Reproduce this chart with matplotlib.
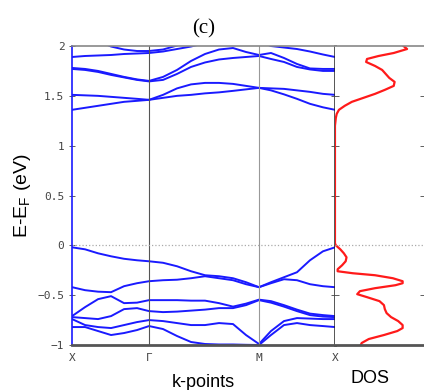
import numpy as np
import matplotlib.pyplot as plt

# k-path distance (arbitrary units) and high-symmetry points
kpath = [0, 13, 26, 39, 52, 65, 77, 91, 105, 119, 133, 147, 161, 174, 187,
         199, 212, 225, 238, 251, 263]
ktick_pos = [0, 77, 187, 263]
ktick_lab = ['X', 'Γ', 'M', 'X']

# valence bands (eV)
v1 = [-0.02, -0.04, -0.08, -0.11, -0.135, -0.15, -0.16, -0.175, -0.21, -0.26, -0.30,
      -0.31, -0.33, -0.37, -0.42, -0.37, -0.32, -0.27, -0.15, -0.06, -0.02]
v2 = [-0.42, -0.45, -0.465, -0.47, -0.41, -0.38, -0.36, -0.35, -0.345, -0.33, -0.31,
      -0.33, -0.35, -0.39, -0.42, -0.38, -0.34, -0.35, -0.39, -0.41, -0.42]
v3 = [-0.71, -0.62, -0.54, -0.51, -0.58, -0.575, -0.55, -0.55, -0.55, -0.555, -0.555,
      -0.58, -0.615, -0.585, -0.545, -0.56, -0.60, -0.645, -0.685, -0.70, -0.71]
v4 = [-0.72, -0.73, -0.74, -0.71, -0.64, -0.63, -0.66, -0.67, -0.665, -0.655, -0.645,
      -0.63, -0.63, -0.60, -0.55, -0.575, -0.615, -0.66, -0.70, -0.715, -0.72]
v5 = [-0.74, -0.80, -0.82, -0.83, -0.80, -0.77, -0.75, -0.76, -0.78, -0.80, -0.80,
      -0.78, -0.79, -0.90, -0.99, -0.86, -0.76, -0.73, -0.735, -0.74, -0.74]
v6 = [-0.82, -0.82, -0.86, -0.90, -0.88, -0.85, -0.81, -0.84, -0.91, -0.97, -0.99,
      -0.995, -0.995, -0.998, -1.0, -0.90, -0.80, -0.78, -0.80, -0.81, -0.82]

# conduction bands (eV)
c1 = [1.36, 1.38, 1.40, 1.42, 1.44, 1.45, 1.46, 1.48, 1.50, 1.51, 1.525,
      1.535, 1.55, 1.565, 1.58, 1.555, 1.515, 1.47, 1.42, 1.385, 1.36]
c2 = [1.51, 1.505, 1.50, 1.49, 1.48, 1.47, 1.46, 1.51, 1.575, 1.615, 1.63,
      1.63, 1.62, 1.60, 1.58, 1.575, 1.57, 1.555, 1.54, 1.52, 1.51]
c3 = [1.77, 1.76, 1.74, 1.71, 1.685, 1.66, 1.645, 1.66, 1.72, 1.79, 1.835,
      1.865, 1.88, 1.89, 1.90, 1.87, 1.84, 1.79, 1.765, 1.75, 1.75]
c4 = [1.78, 1.77, 1.75, 1.72, 1.69, 1.665, 1.65, 1.69, 1.76, 1.85, 1.92,
      1.965, 1.98, 1.94, 1.91, 1.93, 1.88, 1.82, 1.775, 1.77, 1.77]
c5 = [1.89, 1.90, 1.905, 1.91, 1.92, 1.925, 1.93, 1.945, 1.97, 1.995, 2.03,
      2.07, 2.10, 2.08, 2.05, 2.0, 1.985, 1.97, 1.945, 1.915, 1.89]
# this one only dips into the window between X and Gamma-M
c6_k = [26, 39, 52, 65, 77, 91, 105, 119]
c6 = [2.05, 1.995, 1.965, 1.95, 1.95, 1.965, 2.005, 2.06]

bands = [v1, v2, v3, v4, v5, v6, c1, c2, c3, c4, c5]

# density of states (arb. units)
dos_E = [2.0, 1.97, 1.93, 1.90, 1.87, 1.84, 1.80, 1.76, 1.72, 1.68, 1.64, 1.60,
         1.56, 1.52, 1.48, 1.44, 1.40, 1.36, 1.32, 1.28, 1.2, 0.02, 0.0, -0.04,
         -0.08, -0.12, -0.16, -0.20, -0.24, -0.26, -0.28, -0.30, -0.33, -0.36,
         -0.38, -0.40, -0.43, -0.46, -0.49, -0.52, -0.56, -0.60, -0.64, -0.68,
         -0.72, -0.76, -0.80, -0.83, -0.86, -0.90, -0.94, -0.98, -1.0]
dos_val = [0.77, 0.81, 0.66, 0.49, 0.36, 0.35, 0.45, 0.53, 0.57, 0.61, 0.67, 0.66,
           0.56, 0.45, 0.32, 0.19, 0.11, 0.045, 0.02, 0.01, 0.0, 0.0, 0.01, 0.06,
           0.10, 0.13, 0.12, 0.08, 0.03, 0.03, 0.20, 0.45, 0.65, 0.76,
           0.76, 0.68, 0.45, 0.28, 0.25, 0.36, 0.50, 0.55, 0.56, 0.58,
           0.63, 0.71, 0.76, 0.76, 0.70, 0.55, 0.38, 0.30, 0.29]

plt.rcParams['font.family'] = ['Liberation Sans', 'DejaVu Sans']

fig = plt.figure(figsize=(4.24, 3.90), dpi=100)
ax = fig.add_axes([0.170, 0.1154, 0.620, 0.7666])
ax2 = fig.add_axes([0.790, 0.1154, 0.210, 0.7666])

for b in bands:
    ax.plot(kpath, b, color='#1a1aff', lw=1.4)
ax.plot(c6_k, c6, color='#1a1aff', lw=1.4)

ax.set_xlim(0, 263)
ax.set_ylim(-1, 2)
ax.axvline(77, color='#555555', lw=0.8)
ax.axvline(187, color='#999999', lw=0.8)
ax.axhline(0, color='#aaaaaa', lw=0.9, ls=':')

tick_font = dict(family='DejaVu Sans Mono', size=8, color='#444444')
ax.set_yticks([-1, -0.5, 0, 0.5, 1, 1.5, 2])
ax.set_yticklabels(['\u22121', '\u22120.5', '0', '0.5', '1', '1.5', '2'], **tick_font)
ax.set_xticks(ktick_pos)
ax.set_xticklabels(ktick_lab, **tick_font)
ax.tick_params(axis='y', direction='inout', length=5, width=0.6, color='#444444', pad=3)
ax.tick_params(axis='x', length=0, pad=6)

ax.spines['left'].set_color('#1a1aff')
ax.spines['left'].set_linewidth(1.2)
ax.spines['right'].set_color('#222222')
ax.spines['right'].set_linewidth(1.8)
ax.spines['top'].set_color('#888888')
ax.spines['top'].set_linewidth(1.2)
ax.spines['bottom'].set_color('#555555')
ax.spines['bottom'].set_linewidth(2)

ax.set_ylabel('E-E$_\\mathregular{F}$ (eV)', fontsize=14, labelpad=3)
ax.set_xlabel('k-points', fontsize=13, labelpad=8)
ax.set_title('(c)', fontsize=15, family='Liberation Serif', pad=9)

# DOS panel
ax2.plot(dos_val, dos_E, color='#ff1a1a', lw=1.6)
ax2.set_xlim(0, 1.0)
ax2.set_ylim(-1, 2)
ax2.axhline(0, color='#aaaaaa', lw=0.9, ls=':')
ax2.set_xticks([])
ax2.set_yticks([-0.5, 0.5, 1, 1.5])
ax2.tick_params(axis='y', which='both', direction='inout', length=6, width=0.6,
                color='#444444', labelleft=False, right=True)
ax2.spines['left'].set_visible(False)
ax2.spines['right'].set_visible(False)
ax2.spines['top'].set_color('#888888')
ax2.spines['top'].set_linewidth(1.2)
ax2.spines['bottom'].set_color('#555555')
ax2.spines['bottom'].set_linewidth(2)
ax2.set_xlabel('DOS', fontsize=13, va='top')
ax2.xaxis.set_label_coords(0.39, -0.085)

fig.savefig('out.png', dpi=100)
